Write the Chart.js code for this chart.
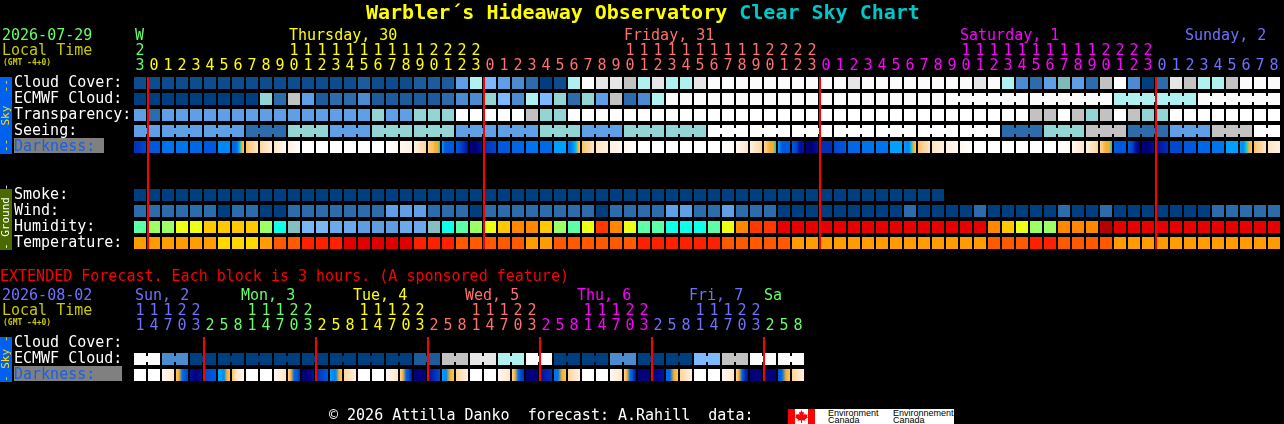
<!DOCTYPE html>
<html>
<head>
<meta charset="utf-8">
<title>Clear Sky Chart</title>
<script src="https://cdn.jsdelivr.net/npm/chart.js@4"></script>
<style>
  html, body { margin: 0; padding: 0; background: #000; width: 1284px; height: 424px; overflow: hidden; }
  body { position: relative; font-family: "DejaVu Sans Mono", monospace; font-size: 15px; }
  canvas { position: absolute; left: 0; }
  .t { position: absolute; white-space: pre; line-height: 15px; }
  .side { position: absolute; left: 0; width: 12px; writing-mode: vertical-rl; transform: rotate(180deg);
          text-align: center; font-size: 11px; line-height: 12px; white-space: pre; }
  #logo { position: absolute; left: 788px; top: 409px; width: 166px; height: 15px; background: #fff; overflow: hidden; }
  #logo div { position: absolute; }
  #logo .w { font: 9px/7px "Liberation Sans", sans-serif; color: #000; white-space: pre; top: 1px; }
</style>
</head>
<body>
<canvas id="main" width="1284" height="260" style="top:0"></canvas>
<canvas id="ext" width="1284" height="164" style="top:260px"></canvas>

<div class="side" style="top:77px;height:77px;background:#0060f0;color:#ffe000">--  Sky  --</div>
<div class="side" style="top:189px;height:61px;background:#4a6a00;color:#fff">- Ground -</div>
<div class="side" style="top:337px;height:45px;background:#0060f0;color:#ffe000">- Sky -</div>

<div id="logo">
  <div style="left:0;top:0;width:7px;height:15px;background:#f00"></div>
  <div style="left:20px;top:0;width:7px;height:15px;background:#f00"></div>
  <svg style="position:absolute;left:7px;top:1px" width="13" height="13" viewBox="0 0 13 13">
    <path fill="#f00" d="M6.5 0 L7.7 2.4 L9 1.8 L8.5 5 L10.2 3.5 L10.7 4.8 L12.6 4.5 L12 6.5 L13 7.2 L10 9.6 L10.4 10.7 L7 10.2 L7 13 L6 13 L6 10.2 L2.6 10.7 L3 9.6 L0 7.2 L1 6.5 L.4 4.5 L2.3 4.8 L2.8 3.5 L4.5 5 L4 1.8 L5.3 2.4 Z"/>
  </svg>
  <div class="w" style="left:40px">Environment
Canada</div>
  <div class="w" style="left:105px">Environnement
Canada</div>
</div>

<script>
// colours for every row, levels below index into these
const skyColors = ["#003f7f", "#0d4d8d", "#1c5c9c", "#2c6cab", "#4c8bd0", "#5e9fe6", "#7db9ff", "#93d5d5", "#aff0f0", "#c2c2c2", "#e6e6e6", "#fbfbfb", "#ffffff", "#7fb9b9"];
const humidityColors = ["#b80000", "#e60000", "#ff3800", "#ff8800", "#ffc800", "#eeff16", "#9cff66", "#5cffa8", "#0fffe8", "#84bfbf", "#5e9ee0", "#69a9ec", "#7ab6f2"];
const temperatureColors = ["#e00000", "#ff2000", "#ff5a00", "#ff9c00", "#ffd800"];
const darkColors = ["#000078", "#0010a0", "#0030b8", "#0048cc", "#0058dc", "#0068e4", "#0074ea", "#0088f4", "#00a0ff", "#00c8e0", "#f0b030", "#ffc060", "#ffd49c", "#ffe4c0", "#fff0e0", "#fff8f0", "#ffffff"];

const GREEN = "#66ff66", YELLOW = "#ffff00", SALMON = "#ff7070", MAGENTA = "#ff00ff", PERI = "#7070ff";

// main chart, one column per hour
const hourTens = ["2", "", "", "", "", "", "", "", "", "", "", "1", "1", "1", "1", "1", "1", "1", "1", "1", "1", "2", "2", "2", "2",
  "", "", "", "", "", "", "", "", "", "", "1", "1", "1", "1", "1", "1", "1", "1", "1", "1", "2", "2", "2", "2",
  "", "", "", "", "", "", "", "", "", "", "1", "1", "1", "1", "1", "1", "1", "1", "1", "1", "2", "2", "2", "2",
  "", "", "", "", "", "", "", "", ""];
const hourUnits = ["3", "0", "1", "2", "3", "4", "5", "6", "7", "8", "9", "0", "1", "2", "3", "4", "5", "6", "7", "8", "9", "0", "1", "2", "3",
  "0", "1", "2", "3", "4", "5", "6", "7", "8", "9", "0", "1", "2", "3", "4", "5", "6", "7", "8", "9", "0", "1", "2", "3",
  "0", "1", "2", "3", "4", "5", "6", "7", "8", "9", "0", "1", "2", "3", "4", "5", "6", "7", "8", "9", "0", "1", "2", "3",
  "0", "1", "2", "3", "4", "5", "6", "7", "8"];
const mainDayStarts = [0, 1, 25, 49, 73];
const mainDayColors = [GREEN, YELLOW, SALMON, MAGENTA, PERI];
const mainMidnights = [1, 25, 49, 73];
const mainRowLabels = ["Cloud Cover:", "ECMWF Cloud:", "Transparency:", "Seeing:", "Darkness:", "", "", "Smoke:", "Wind:", "Humidity:", "Temperature:"];

const cloudCover = [1, 1, 1, 1, 1, 1, 1, 1, 1, 1, 1, 1, 1, 1, 1, 1, 2, 1, 1, 1, 2, 2, 2, 5, 8, 6, 5, 4, 3, 0, 1, 8, 11, 10, 10, 9, 8, 10, 8, 8, 10,
  11, 11, 11, 11, 11, 11, 11, 11, 11, 11, 10, 11, 11, 11, 11, 11, 11, 11, 11, 10, 11, 8, 4, 3, 5, 13, 5, 3, 9, 12, 4, 0, 3, 10, 9, 8, 8, 9, 11, 11, 11];
const ecmwfCloud = [0, 0, 0, 0, 0, 0, 0, 0, 0, 7, 3, 9, 5, 2, 3, 3, 4, 2, 2, 2, 2, 2, 3, 4, 4, 7, 6, 4, 8, 6, 7, 3, 7, 5, 9, 3, 4, 8,
  11, 11, 11, 11, 11, 11, 11, 11, 11, 11, 11, 11, 11, 11, 11, 11, 11, 11, 11, 11, 11, 11, 11, 11, 11, 11, 11, 11, 11, 11, 11, 11,
  8, 8, 8, 8, 8, 8, 11, 11, 11, 11, 11, 11];
const transparency = [5, 3, 5, 5, 5, 5, 5, 5, 5, 5, 5, 5, 5, 5, 5, 5, 5, 7, 5, 5, 7, 7, 7, 12, 12, 12, 12, 12, 9, 7, 7,
  12, 12, 12, 12, 12, 12, 12, 12, 12, 12, 12, 12, 12, 12, 12, 12, 12, 12, 12, 12, 12, 12, 12, 12, 12, 12, 12, 12, 12, 12, 12, 12, 12,
  9, 9, 12, 9, 7, 9, 12, 9, 7, 7, 12, 12, 12, 12, 12, 12, 12, 12];
const seeing = [5, 5, 5, 5, 5, 5, 5, 5, 3, 3, 3, 7, 7, 7, 5, 5, 5, 7, 7, 7, 7, 7, 7, 5, 5, 5, 5, 5, 5, 7, 7, 7, 5, 5, 5, 7, 7, 7, 7, 7, 7,
  12, 12, 12, 12, 12, 12, 12, 12, 12, 12, 12, 12, 12, 12, 12, 12, 12, 12, 12, 12, 12,
  3, 3, 3, 7, 7, 7, 9, 9, 9, 3, 3, 3, 5, 5, 5, 9, 9, 9, 12, 12];
const seeingBlocks = [2, 3, 3, 3, 3, 3, 3, 3, 3, 3, 3, 3, 3, 3, 3, 3, 3, 3, 3, 3, 3, 3, 3, 3, 3, 3, 3, 2];
const ecmwfBlocks = [1, 1, 1, 1, 1, 1, 1, 1, 1, 1, 1, 1, 1, 1, 1, 1, 1, 1, 1, 1, 1, 1, 1, 1, 1, 1, 1, 1, 1, 1, 1, 1, 1, 1, 1, 1, 1, 1,
  1, 1, 1, 1, 1, 1, 1, 1, 1, 1, 1, 1, 1, 1, 1, 1, 1, 1, 1, 1, 6, 6, 6, 6];
const darkness = [[2, 3], [4], [6], [6], [5], [4], [7], [5, 5, 5, 7, 9, 10, 11], [11, 12, 13], [12, 13, 14], [13, 14, 15], [14, 15, 16],
  [16], [16], [16], [16], [16], [16], [16, 15], [15, 14], [14, 13, 12], [12, 11, 11, 10, 10, 9], [8, 4, 4, 4, 4], [4, 3, 2, 1], [0, 0, 1],
  [2, 3], [4], [5], [6], [5], [8], [6, 6, 7, 8, 9, 10, 11], [11, 12, 13], [13, 14], [14, 15], [15, 16],
  [16], [16], [16], [16], [16], [16], [16, 15], [15, 14, 13], [14, 13, 12], [12, 11, 10, 10, 9], [8, 4, 4, 4], [4, 3, 1, 1], [0, 0, 1],
  [2, 2], [3, 4], [5], [6], [6], [8], [8, 7, 7, 9, 10, 11], [11, 12, 13], [13, 14], [14, 15], [15, 16],
  [16], [16], [16], [16], [16], [16], [16, 15], [15, 14, 13], [14, 13, 12], [12, 11, 10, 10, 9], [4, 4, 4], [4, 3, 1, 0], [0, 0, 1],
  [1, 2], [3], [4], [5], [6], [8], [8, 7, 9, 10, 11], [11, 12, 13], [13, 14]];
const smoke = [0, 0, 0, 0, 0, 0, 0, 0, 0, 0, 0, 0, 0, 0, 0, 0, 0, 0, 0, 0, 0, 0, 0, 0, 0, 0, 0, 0, 0, 0, 0, 0, 0, 0, 0, 0, 0, 0, 0, 0, 0, 0, 0, 0, 0, 0, 0, 0, 0, 0, 0, 0, 0, 0, 0, 0, 0, 0];
const wind = [3, 3, 3, 3, 3, 3, 0, 3, 3, 0, 0, 3, 3, 3, 3, 3, 3, 3, 5, 5, 5, 3, 3, 3, 0, 3, 3, 3, 3, 3, 3, 3, 3, 0, 3, 3, 3, 3, 5, 5, 3, 3, 5, 3, 3, 3,
  0, 0, 0, 0, 0, 0, 0, 0, 0, 3, 0, 0, 0, 0, 3, 0, 0, 0, 0, 0, 3, 0, 0, 3, 0, 0, 0, 0, 0, 0, 0, 3, 3, 3, 3, 3];
const humidity = [7, 6, 6, 5, 5, 4, 4, 4, 4, 6, 8, 9, 12, 12, 11, 11, 10, 10, 10, 11, 11, 9, 8, 7, 6, 5, 4, 3, 3, 4, 6, 7, 5, 2, 3, 5, 7, 7, 8, 8, 8, 7, 5, 3, 2, 2,
  1, 1, 1, 1, 1, 1, 1, 1, 1, 1, 1, 1, 1, 1, 1, 3, 4, 5, 6, 6, 3, 3, 3, 0, 1, 1, 1, 1, 1, 1, 1, 1, 1, 1, 1, 1];
const temperature = [3, 3, 3, 3, 3, 3, 4, 4, 4, 3, 2, 2, 1, 1, 1, 0, 0, 0, 0, 0, 1, 1, 1, 2, 2, 2, 2, 2, 3, 3, 2, 2, 2, 2, 2, 2, 1, 1, 1, 1, 1, 1, 2, 2, 2, 2, 2,
  3, 3, 3, 3, 3, 3, 3, 3, 3, 3, 3, 3, 3, 3, 2, 2, 2, 1, 1, 2, 2, 2, 2, 3, 3, 3, 3, 3, 3, 3, 3, 3, 3, 3, 3];

// extended chart, one column is 3 hours / 2 columns make a block
const extTens = ["1", "1", "1", "2", "2", "", "", "", "1", "1", "1", "2", "2", "", "", "", "1", "1", "1", "2", "2", "", "", "", "1", "1", "1", "2", "2",
  "", "", "", "1", "1", "1", "2", "2", "", "", "", "1", "1", "1", "2", "2", "", "", ""];
const extUnits = ["1", "4", "7", "0", "3", "2", "5", "8", "1", "4", "7", "0", "3", "2", "5", "8", "1", "4", "7", "0", "3", "2", "5", "8", "1", "4", "7", "0", "3",
  "2", "5", "8", "1", "4", "7", "0", "3", "2", "5", "8", "1", "4", "7", "0", "3", "2", "5", "8"];
const extDayStarts = [0, 5, 13, 21, 29, 37, 45];
const extDayColors = [PERI, GREEN, YELLOW, SALMON, MAGENTA, PERI, GREEN];
const extMidnights = [5, 13, 21, 29, 37, 45];
const extRowLabels = ["Cloud Cover:", "ECMWF Cloud:", "Darkness:"];
const extEcmwf = [11, 11, 4, 4, 0, 0, 0, 0, 0, 0, 0, 0, 0, 0, 0, 0, 0, 0, 0, 0, 2, 2, 9, 9, 10, 10, 8, 8, 11, 11, 0, 0, 0, 0, 4, 4, 0, 0, 0, 0, 6, 6, 9, 9, 11, 11, 11, 11];
const extEcmwfBlocks = [2, 2, 2, 2, 2, 2, 2, 2, 2, 2, 2, 2, 2, 2, 2, 2, 2, 2, 2, 2, 2, 2, 2, 2];
const extDarkness = [[16], [16], [15, 14, 13], [11, 10, 6, 4, 3], [1, 0, 1], [3, 4], [8, 8, 7, 10, 11], [11, 13, 14, 15],
  [16], [16], [15, 14, 13], [12, 10, 5, 4, 2], [0, 0, 1], [2, 4], [8, 7, 7, 10, 11], [12, 13, 14],
  [16], [16], [15, 14, 13], [12, 10, 5, 3, 1], [0, 0, 0], [1, 3], [8, 7, 10, 11], [12, 13, 14],
  [16], [16], [15, 14, 13], [12, 10, 6, 3, 2], [0], [1, 2], [6, 6, 10, 11], [12, 13, 14],
  [16], [16], [15, 14, 13], [12, 10, 6, 3, 1], [0], [0, 1], [5, 5, 10, 11], [12, 13, 14],
  [16], [16], [15, 14, 13], [12, 10, 5, 2, 1], [0], [0], [4, 5, 10, 11], [12, 13, 14]];

// html text, [text, x, centre y, colour]
const pageTexts = [
  ["2026-07-29", 2, 35, GREEN], ["Local Time", 2, 50, "#c8c800"],
  ["W", 135, 35, GREEN], ["Thursday, 30", 289, 35, YELLOW], ["Friday, 31", 624, 35, SALMON], ["Saturday, 1", 960, 35, MAGENTA], ["Sunday, 2", 1185, 35, PERI],
  ["EXTENDED Forecast. Each block is 3 hours. (A sponsored feature)", 0, 276, "#ff0000"],
  ["2026-08-02", 2, 295, PERI], ["Local Time", 2, 310, "#c8c800"],
  ["Sun, 2", 135, 295, PERI], ["Mon, 3", 241, 295, GREEN], ["Tue, 4", 353, 295, YELLOW], ["Wed, 5", 465, 295, SALMON], ["Thu, 6", 577, 295, MAGENTA], ["Fri, 7", 689, 295, PERI], ["Sa", 764, 295, GREEN],
  ["\u00a9 2026 Attilla Danko  forecast: A.Rahill  data:", 329, 415, "#ffffff"]
];
const smallTexts = [["(GMT -4+0)", 3, 62], ["(GMT -4+0)", 3, 322]];

function addText(text, x, y, color, style) {
  const el = document.createElement("div");
  el.className = "t";
  el.textContent = text;
  el.style.left = x + "px";
  el.style.top = (y - 7.5) + "px";
  el.style.color = color;
  if (style) el.style.cssText += style;
  document.body.appendChild(el);
  return el;
}

pageTexts.forEach((t) => addText(t[0], t[1], t[2], t[3]));
smallTexts.forEach((t) => addText(t[0], t[1], t[2], "#c8c800", "font-size:8px;font-weight:bold;"));

const title = addText("Warbler\u00b4s Hideaway Observatory ", 366, 12, "#ffff00", "font-size:20px;font-weight:bold;");
const titleEnd = document.createElement("span");
titleEnd.textContent = "Clear Sky Chart";
titleEnd.style.color = "#00c8c8";
title.appendChild(titleEnd);

function colorForCol(col, starts, colors) {
  let c = colors[0];
  starts.forEach((s, i) => { if (col >= s) c = colors[i]; });
  return c;
}

function skyRow(levels, row, palette) {
  return {
    data: levels.map(() => [row, row + 0.75]),
    backgroundColor: levels.map((l) => palette[l]),
    grouped: false,
    barPercentage: 12 / 14,
    categoryPercentage: 1
  };
}

function darkRow(cells, row) {
  return {
    data: cells.map(() => [row, row + 0.75]),
    backgroundColor: (ctx) => {
      const stops = cells[ctx.dataIndex];
      if (!stops) return "#000";
      if (stops.length === 1) return darkColors[stops[0]];
      const cx = ctx.chart.scales.x ? ctx.chart.scales.x.getPixelForValue(ctx.dataIndex) : NaN;
      if (!isFinite(cx)) return darkColors[stops[0]]; // scales not laid out yet
      const g = ctx.chart.ctx.createLinearGradient(cx - 6, 0, cx + 6, 0);
      stops.forEach((s, i) => g.addColorStop(i / (stops.length - 1), darkColors[s]));
      return g;
    },
    grouped: false,
    barPercentage: 12 / 14,
    categoryPercentage: 1
  };
}

function makeChart(id, cfg) {
  const colCount = cfg.units.length;
  const cnv = document.getElementById(id);

  const cscPlugin = {
    id: "csc",
    beforeDraw(chart) {
      // grey box behind the Darkness label
      const y = chart.scales.y.getPixelForValue(cfg.darkRowIndex);
      chart.ctx.fillStyle = "#808080";
      chart.ctx.fillRect(14, y + cfg.boxTop, cfg.boxWidth, 15);
    },
    afterDatasetsDraw(chart) {
      const c = chart.ctx;
      // joins between the hours of one forecast block
      cfg.blocks.forEach((b) => {
        const meta = chart.getDatasetMeta(b.dataset);
        let col = 0;
        b.lengths.forEach((len) => {
          for (let k = col; k < col + len - 1; k++) {
            const el = meta.data[k];
            c.fillStyle = el.options.backgroundColor;
            c.fillRect(el.x + 6, Math.min(el.y, el.base) + 3, 2, 6);
          }
          col += len;
        });
      });
      // midnight lines
      c.fillStyle = "#ff0000";
      cfg.midnights.forEach((m) => {
        const x = chart.scales.x.getPixelForValue(m) - 6;
        c.fillRect(x - 1, chart.chartArea.top, 2, chart.chartArea.bottom - chart.chartArea.top);
      });
    }
  };

  return new Chart(cnv, {
    type: "bar",
    data: {
      labels: cfg.units.map((u, i) => [cfg.tens[i], u]),
      datasets: cfg.datasets
    },
    plugins: [cscPlugin],
    options: {
      responsive: false,
      animation: false,
      events: [],
      layout: { padding: { left: 14, top: 0, right: cnv.width - 133 - colCount * 14, bottom: cfg.bottomPad } },
      plugins: { legend: { display: false }, tooltip: { enabled: false } },
      scales: {
        x: {
          position: "top",
          grid: { display: false, drawTicks: false },
          border: { display: false },
          afterFit: (s) => { s.height = 77; s.paddingLeft = 0; s.paddingRight = 0; },
          ticks: {
            autoSkip: false,
            maxRotation: 0,
            minRotation: 0,
            padding: 3,
            font: { family: "DejaVu Sans Mono", size: 15, lineHeight: 1 },
            color: (ctx) => colorForCol(ctx.index, cfg.dayStarts, cfg.dayColors)
          }
        },
        y: {
          reverse: true,
          min: 0,
          max: cfg.maxRow,
          grid: { display: false, drawTicks: false },
          border: { display: false },
          afterFit: (s) => { s.width = 119; s.paddingTop = 0; s.paddingBottom = 0; },
          afterBuildTicks: (s) => {
            s.ticks = cfg.rowLabels.map((l, r) => ({ value: r + 0.36 })).filter((t, r) => cfg.rowLabels[r]);
          },
          ticks: {
            autoSkip: false,
            crossAlign: "far",
            padding: 0,
            font: { family: "DejaVu Sans Mono", size: 15 },
            callback: (v) => cfg.rowLabels[Math.round(v - 0.36)],
            color: (ctx) => (ctx.tick && cfg.rowLabels[Math.round(ctx.tick.value - 0.36)] === "Darkness:" ? "#1a5fe0" : "#ffffff")
          }
        }
      }
    }
  });
}

makeChart("main", {
  tens: hourTens,
  units: hourUnits,
  dayStarts: mainDayStarts,
  dayColors: mainDayColors,
  midnights: mainMidnights,
  rowLabels: mainRowLabels,
  maxRow: 10.75,
  bottomPad: 11,
  darkRowIndex: 4,
  boxTop: -3,
  boxWidth: 90,
  blocks: [{ dataset: 1, lengths: ecmwfBlocks }, { dataset: 3, lengths: seeingBlocks }],
  datasets: [
    skyRow(cloudCover, 0, skyColors),
    skyRow(ecmwfCloud, 1, skyColors),
    skyRow(transparency, 2, skyColors),
    skyRow(seeing, 3, skyColors),
    darkRow(darkness, 4),
    skyRow(smoke, 7, skyColors),
    skyRow(wind, 8, skyColors),
    skyRow(humidity, 9, humidityColors),
    skyRow(temperature, 10, temperatureColors)
  ]
});

makeChart("ext", {
  tens: extTens,
  units: extUnits,
  dayStarts: extDayStarts,
  dayColors: extDayColors,
  midnights: extMidnights,
  rowLabels: extRowLabels,
  maxRow: 2.75,
  bottomPad: 43,
  darkRowIndex: 2,
  boxTop: -3,
  boxWidth: 108,
  blocks: [{ dataset: 0, lengths: extEcmwfBlocks }],
  datasets: [
    skyRow(extEcmwf, 1, skyColors),
    darkRow(extDarkness, 2)
  ]
});
</script>
</body>
</html>
